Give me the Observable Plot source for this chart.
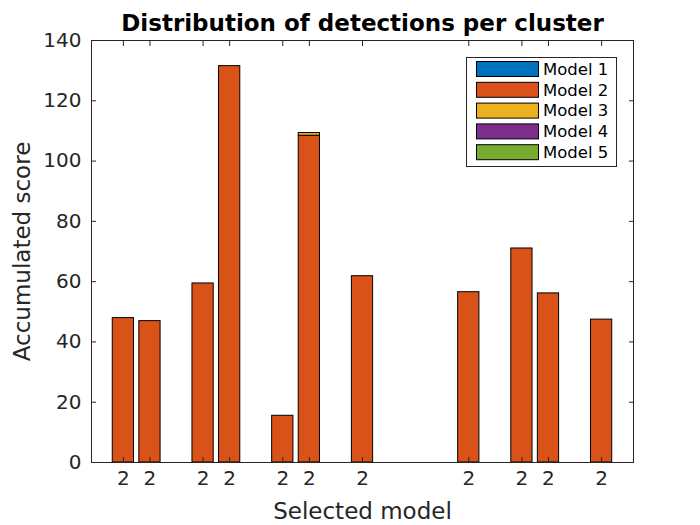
<!DOCTYPE html>
<html><head><meta charset="utf-8">
<script src="https://cdn.jsdelivr.net/npm/d3@7"></script>
<script src="https://cdn.jsdelivr.net/npm/@observablehq/plot@0.6"></script>
<style>body{margin:0;background:#fff;} svg{display:block;}</style>
</head><body><div id="chart"></div>
<script>
// ---- data ----
const clusterPos = [1, 2, 4, 5, 7, 8, 10, 14, 16, 17, 19];
const selectedModel = ["2", "2", "2", "2", "2", "2", "2", "2", "2", "2", "2"];
const models = ["Model 1", "Model 2", "Model 3", "Model 4", "Model 5"];
const colors = ["#0072BD", "#D95319", "#EDB120", "#7E2F8E", "#77AC30"];
const model1 = [0, 0, 0, 0, 0, 0, 0, 0, 0, 0, 0];
const model2 = [47.9, 46.9, 59.4, 131.5, 15.5, 108.4, 61.8, 56.5, 71.0, 56.1, 47.4];
const model3 = [0, 0, 0, 0, 0, 0.9, 0, 0, 0, 0, 0];
const model4 = [0, 0, 0, 0, 0, 0, 0, 0, 0, 0, 0];
const model5 = [0, 0, 0, 0, 0, 0, 0, 0, 0, 0, 0];
const yTicks = [0, 20, 40, 60, 80, 100, 120, 140];
const titleText = "Distribution of detections per cluster";
const xLabel = "Selected model";
const yLabel = "Accumulated score";

// ---- stacked table ----
const series = [model1, model2, model3, model4, model5];
const rows = [];
clusterPos.forEach((x, i) => {
  let acc = 0;
  series.forEach((s, m) => {
    const v = s[i];
    if (v > 0) { rows.push({x, model: models[m], y1: acc, y2: acc + v}); acc += v; }
  });
});

const W = 700, H = 525, mL = 91, mR = 67, mT = 40, mB = 63;
const axisColor = "#262626";
const halfBar = 0.4;
const blank = () => "";

const svg = Plot.plot({
  width: W, height: H,
  marginLeft: mL, marginRight: mR, marginTop: mT, marginBottom: mB,
  style: {fontFamily: "DejaVu Sans", background: "#fff", color: axisColor, overflow: "visible"},
  x: {domain: [-0.2, 20.2]},
  y: {domain: [0, 140]},
  color: {domain: models, range: colors},
  marks: [
    Plot.rect(rows, {x1: d => d.x - halfBar, x2: d => d.x + halfBar, y1: "y1", y2: "y2",
      fill: "model", stroke: "black", strokeWidth: 1}),
    Plot.frame({stroke: axisColor, strokeWidth: 1}),
    Plot.axisX({anchor: "bottom", ticks: clusterPos, tickSize: -5, tickFormat: blank, label: null, stroke: axisColor}),
    Plot.axisX({anchor: "top", ticks: clusterPos, tickSize: -5, tickFormat: blank, label: null, stroke: axisColor}),
    Plot.axisY({anchor: "left", ticks: yTicks, tickSize: -5, tickFormat: blank, label: null, stroke: axisColor}),
    Plot.axisY({anchor: "right", ticks: yTicks, tickSize: -5, tickFormat: blank, label: null, stroke: axisColor}),
    Plot.axisX({anchor: "bottom", ticks: clusterPos, tickSize: 0, tickPadding: 8, label: null,
      tickFormat: d => selectedModel[clusterPos.indexOf(d)], fontSize: 20, fill: axisColor}),
    Plot.axisY({anchor: "left", ticks: yTicks, tickSize: 0, tickPadding: 10, label: null,
      tickFormat: d => String(d), fontSize: 20, fill: axisColor}),
    Plot.axisY({anchor: "left", ticks: [], tickSize: 0, label: yLabel, labelAnchor: "center",
      labelArrow: "none", labelOffset: 78, fontSize: 23, fill: axisColor}),
    Plot.text([xLabel], {frameAnchor: "bottom", dy: 56, fontSize: 23, fill: axisColor}),
    Plot.text([titleText], {frameAnchor: "top", dy: -26, fontSize: 23, fontWeight: "bold", fill: "black"})
  ]
});

// ---- legend ----
const lg = d3.select(svg).append("g").attr("font-family", "DejaVu Sans").attr("font-size", 16.5)
  .attr("text-anchor", "start");
const boxX = 466, boxY = 57, boxW = 150, boxH = 109, rowH = 20.8, row0 = 69;
lg.append("rect").attr("x", boxX + 0.5).attr("y", boxY + 0.5).attr("width", boxW).attr("height", boxH)
  .attr("fill", "white").attr("stroke", axisColor);
models.forEach((m, i) => {
  const cy = row0 + i * rowH;
  lg.append("rect").attr("x", 476.5).attr("y", cy - 7.5).attr("width", 62).attr("height", 15)
    .attr("fill", colors[i]).attr("stroke", "black");
  lg.append("text").attr("x", 543).attr("y", cy).attr("dy", "0.35em").attr("fill", "black").text(m);
});

document.getElementById("chart").appendChild(svg);
</script>
</body></html>
